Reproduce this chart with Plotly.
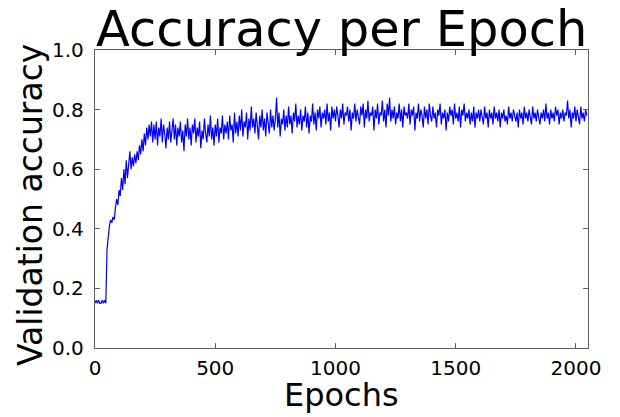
import plotly.graph_objects as go

# Validation accuracy sampled every 5 epochs (rows of 10 = 50 epochs)
accuracy = [
    0.15, 0.16, 0.15, 0.16, 0.15, 0.15, 0.16, 0.15, 0.16, 0.15,
    0.33, 0.38, 0.41, 0.43, 0.42, 0.44, 0.43, 0.47, 0.50, 0.48,
    0.53, 0.51, 0.57, 0.53, 0.60, 0.55, 0.63, 0.57, 0.61, 0.66,
    0.60, 0.64, 0.61, 0.65, 0.62, 0.66, 0.63, 0.68, 0.65, 0.70,
    0.66, 0.72, 0.68, 0.74, 0.70, 0.75, 0.71, 0.76, 0.69, 0.75,
    0.70, 0.76, 0.68, 0.74, 0.71, 0.77, 0.69, 0.75, 0.72, 0.67,
    0.74, 0.70, 0.76, 0.69, 0.73, 0.77, 0.70, 0.75, 0.68, 0.74,
    0.71, 0.76, 0.69, 0.73, 0.66, 0.75, 0.71, 0.77, 0.70, 0.74,
    0.68, 0.75, 0.72, 0.77, 0.69, 0.74, 0.71, 0.76, 0.67, 0.73,
    0.70, 0.77, 0.72, 0.69, 0.75, 0.71, 0.78, 0.70, 0.74, 0.68,
    0.75, 0.71, 0.77, 0.69, 0.74, 0.72, 0.78, 0.70, 0.75, 0.72,
    0.76, 0.70, 0.78, 0.73, 0.75, 0.69, 0.79, 0.72, 0.76, 0.71,
    0.78, 0.73, 0.80, 0.71, 0.76, 0.74, 0.79, 0.70, 0.77, 0.73,
    0.81, 0.74, 0.77, 0.72, 0.79, 0.75, 0.70, 0.78, 0.74, 0.80,
    0.73, 0.77, 0.71, 0.79, 0.75, 0.72, 0.80, 0.74, 0.78, 0.73,
    0.77, 0.84, 0.74, 0.79, 0.71, 0.77, 0.75, 0.80, 0.73, 0.78,
    0.74, 0.81, 0.75, 0.78, 0.72, 0.79, 0.76, 0.82, 0.74, 0.78,
    0.75, 0.80, 0.73, 0.78, 0.76, 0.81, 0.74, 0.79, 0.72, 0.78,
    0.76, 0.82, 0.75, 0.79, 0.73, 0.80, 0.77, 0.81, 0.74, 0.79,
    0.77, 0.80, 0.75, 0.82, 0.76, 0.79, 0.73, 0.81, 0.77, 0.80,
    0.76, 0.81, 0.78, 0.74, 0.80, 0.77, 0.82, 0.75, 0.79, 0.78,
    0.81, 0.76, 0.80, 0.73, 0.79, 0.77, 0.82, 0.76, 0.80, 0.78,
    0.75, 0.81, 0.78, 0.82, 0.74, 0.80, 0.77, 0.83, 0.76, 0.79,
    0.78, 0.81, 0.73, 0.80, 0.77, 0.82, 0.75, 0.79, 0.78, 0.83,
    0.76, 0.80, 0.74, 0.82, 0.78, 0.84, 0.76, 0.80, 0.77, 0.81,
    0.75, 0.79, 0.77, 0.82, 0.76, 0.80, 0.74, 0.81, 0.78, 0.79,
    0.77, 0.82, 0.75, 0.80, 0.78, 0.81, 0.73, 0.79, 0.77, 0.82,
    0.76, 0.80, 0.78, 0.74, 0.81, 0.77, 0.80, 0.75, 0.82, 0.78,
    0.76, 0.81, 0.77, 0.79, 0.74, 0.80, 0.78, 0.82, 0.75, 0.79,
    0.77, 0.80, 0.73, 0.79, 0.76, 0.81, 0.78, 0.80, 0.75, 0.82,
    0.77, 0.79, 0.76, 0.81, 0.74, 0.80, 0.78, 0.82, 0.76, 0.79,
    0.77, 0.80, 0.75, 0.79, 0.76, 0.81, 0.74, 0.79, 0.77, 0.80,
    0.76, 0.80, 0.78, 0.75, 0.81, 0.77, 0.79, 0.74, 0.80, 0.77,
    0.79, 0.75, 0.81, 0.77, 0.79, 0.76, 0.80, 0.74, 0.79, 0.77,
    0.80, 0.76, 0.78, 0.75, 0.81, 0.77, 0.79, 0.76, 0.80, 0.78,
    0.76, 0.79, 0.74, 0.80, 0.77, 0.79, 0.75, 0.81, 0.77, 0.79,
    0.76, 0.80, 0.78, 0.75, 0.81, 0.77, 0.79, 0.76, 0.80, 0.78,
    0.75, 0.79, 0.77, 0.80, 0.76, 0.82, 0.77, 0.79, 0.75, 0.80,
    0.77, 0.79, 0.76, 0.81, 0.78, 0.80, 0.75, 0.79, 0.77, 0.80,
    0.76, 0.79, 0.78, 0.83, 0.77, 0.80, 0.74, 0.79, 0.77, 0.81,
    0.76, 0.80, 0.78, 0.75, 0.81, 0.77, 0.79, 0.76, 0.80, 0.78,
]
epochs = list(range(0, 5 * len(accuracy), 5))

x_ticks = [0, 500, 1000, 1500, 2000]
y_ticks = [0.0, 0.2, 0.4, 0.6, 0.8, 1.0]

title_text = "Accuracy per Epoch"
x_label = "Epochs"
y_label = "Validation accuracy"

FONT = "DejaVu Sans"
AXCOL = "#606060"

fig = go.Figure()
fig.add_trace(go.Scatter(x=epochs, y=accuracy, mode="lines",
                         line=dict(color="#0000ff", width=1.2)))

axis_common = dict(showline=True, linecolor=AXCOL, linewidth=1.3, mirror="ticks",
                   ticks="inside", ticklen=5, tickcolor=AXCOL, tickwidth=1,
                   showgrid=False, zeroline=False, automargin=False,
                   tickfont=dict(family=FONT, size=20, color="black"))

fig.update_layout(
    width=620, height=417,
    margin=dict(l=95, r=32, t=50, b=69),
    paper_bgcolor="white", plot_bgcolor="white",
    showlegend=False,
    font=dict(family=FONT, color="black"),
    xaxis=dict(range=[0, 2050], tickvals=x_ticks, ticklabelstandoff=2, **axis_common),
    yaxis=dict(range=[0, 1], tickvals=y_ticks, tickformat=".1f",
               ticklabelstandoff=6, **axis_common),
)

fig.add_annotation(text=title_text, xref="paper", yref="paper", x=0.5, y=1,
                   xanchor="center", yanchor="bottom", yshift=-10, showarrow=False,
                   font=dict(family=FONT, size=49.5, color="black"))
fig.add_annotation(text=x_label, xref="paper", yref="paper", x=0.5, y=0,
                   xanchor="center", yanchor="middle", yshift=-47, showarrow=False,
                   font=dict(family=FONT, size=32, color="black"))
fig.add_annotation(text=y_label, xref="paper", yref="paper", x=0, y=0.5,
                   xanchor="center", yanchor="middle", xshift=-65, yshift=-6,
                   textangle=-90, showarrow=False,
                   font=dict(family=FONT, size=33, color="black"))

fig.write_html("out.html", config={"displayModeBar": False},
               post_script="document.body.style.margin='0';document.body.style.overflow='hidden';")
